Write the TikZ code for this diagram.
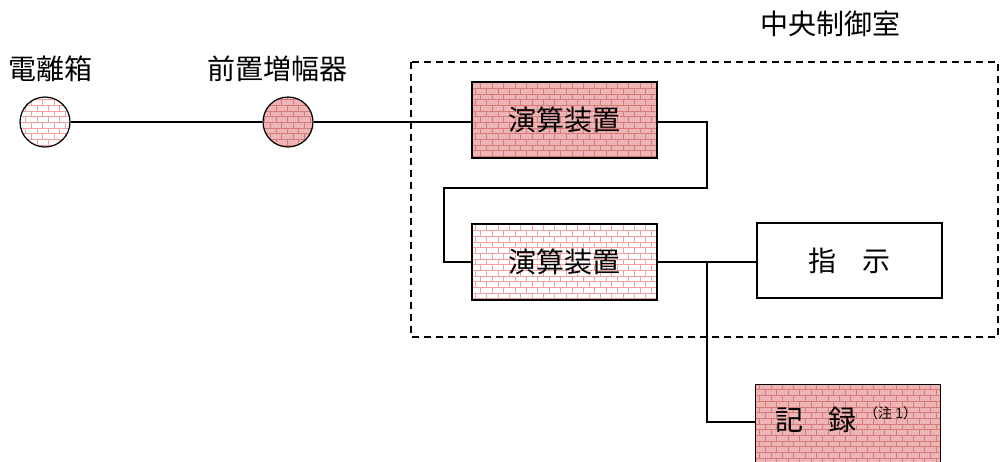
\documentclass[tikz,border=0pt]{standalone}
\usepackage{fontspec}
\setmainfont{Noto Sans CJK JP}
\newfontfamily\cjk{Noto Sans CJK JP}
\usetikzlibrary{patterns}
\definecolor{brickdark}{HTML}{EDB5B5}
\definecolor{brickline}{HTML}{D97A7A}
\definecolor{bricklight}{HTML}{F2A0A0}
\tikzset{
  txt/.style={font=\cjk\fontsize{28}{30}\selectfont},
  lbl/.style={txt, inner sep=0pt},
  darkbox/.style={draw=black, line width=1.2pt, preaction={fill=brickdark}, pattern=bricks, pattern color=brickline, txt, inner sep=0pt},
  lightbox/.style={draw=black, line width=1.2pt, preaction={fill=white}, pattern=bricks, pattern color=bricklight, txt, inner sep=0pt},
  plainbox/.style={draw=black, line width=1.2pt, fill=white, txt, inner sep=0pt},
  wire/.style={line width=1.2pt},
}
\begin{document}
\begin{tikzpicture}[x=1pt,y=-1pt]
\useasboundingbox (0,0) rectangle (1000,461);
% dashed region
\draw[dashed, line width=1.2pt, dash pattern=on 7pt off 5pt] (411,62) rectangle (998,337);
\node[lbl] (lroom) at (830,24) {中央制御室};
\node[lbl] (lion) at (51,69) {電離箱};
\node[lbl] (lpre) at (277,69) {前置増幅器};
% circles
\node[lightbox, circle, minimum size=50pt] (c1) at (45,122) {};
\node[darkbox, circle, minimum size=50pt] (c2) at (288,122) {};
% boxes
\node[darkbox, minimum width=185pt, minimum height=76pt] (b1) at (564.5,120) {演算装置};
\node[lightbox, minimum width=185pt, minimum height=76pt] (b2) at (564.5,262) {演算装置};
\node[plainbox, minimum width=185pt, minimum height=75pt] (b3) at (849.5,260.5) {指\hspace{0.9em}示};
\node[darkbox, minimum width=185pt, minimum height=80pt, anchor=north west] (b4) at (755,384) {};
\node[txt, inner sep=0pt] (t4) at (816,420) {記\hspace{0.9em}録};
\node[font=\cjk\fontsize{14}{16}\selectfont, inner sep=0pt, anchor=west] (n4) at (864,413) {（注 1）};
% wires
\coordinate (j1) at (707,122);
\coordinate (j2) at (707,188);
\coordinate (j3) at (444,188);
\coordinate (j4) at (444,262);
\coordinate (j5) at (707,262);
\coordinate (j6) at (707,422);
\draw[wire] (c1.east) -- (c2.west);
\draw[wire] (c2.east) -- (b1.west |- c2.east);
\draw[wire] (b1.east |- j1) -- (j1) -- (j2) -- (j3) -- (j4) -- (b2.west |- j4);
\draw[wire] (b2.east |- j5) -- (b3.west |- j5);
\draw[wire] (j5) -- (j6) -- (b4.west |- j6);
\end{tikzpicture}
\end{document}
